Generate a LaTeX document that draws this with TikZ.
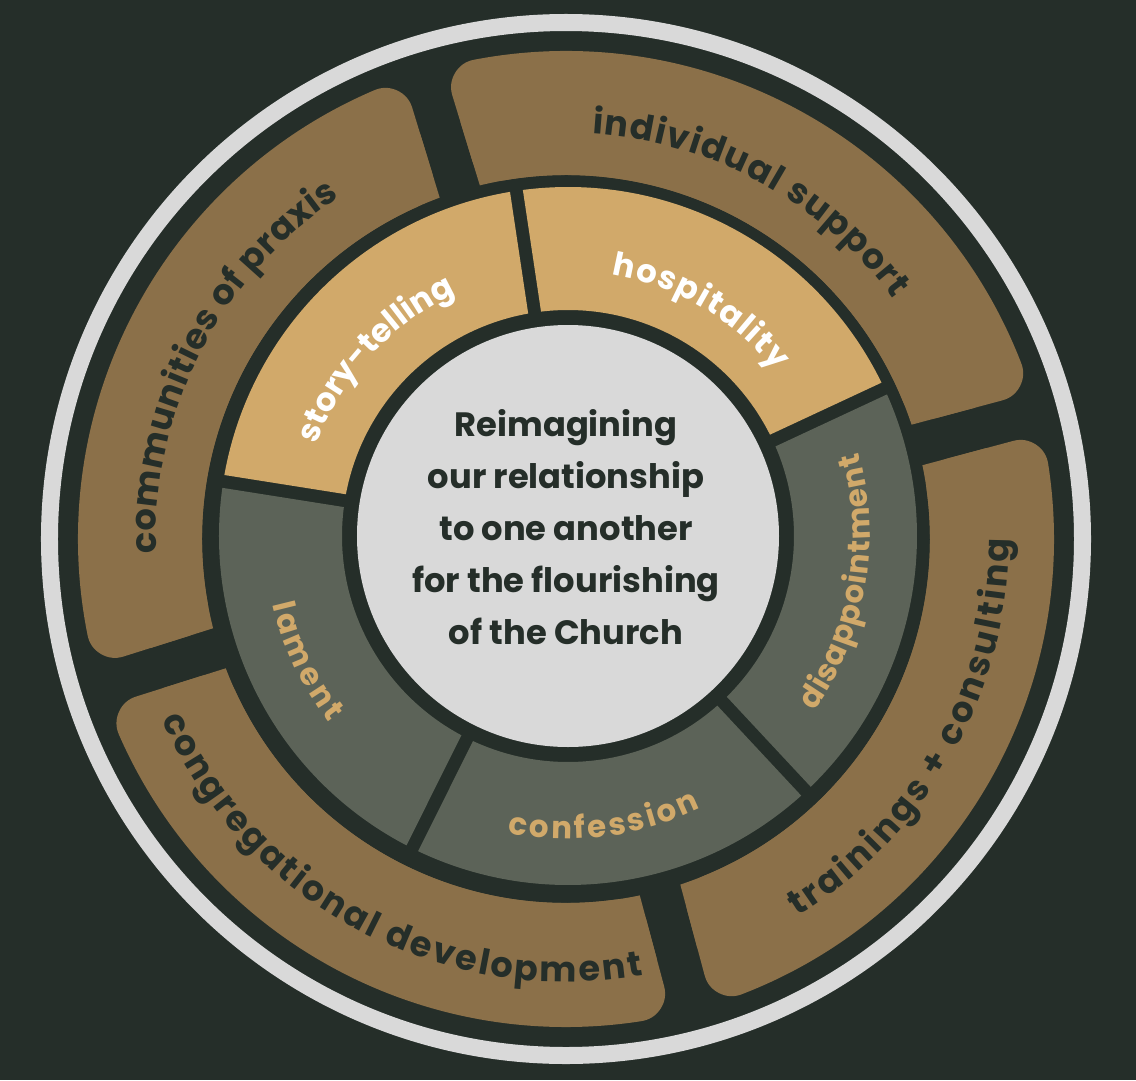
\documentclass[tikz,border=0pt]{standalone}
\usepackage{fontspec}
\setmainfont{Poppins}
\usetikzlibrary{decorations.text}
\definecolor{bg}{RGB}{37,46,41}
\definecolor{ink}{RGB}{37,46,41}
\definecolor{pale}{RGB}{217,217,217}
\definecolor{brn}{RGB}{139,112,73}
\definecolor{sand}{RGB}{209,169,106}
\definecolor{sage}{RGB}{92,99,88}
\newcommand\outfont{\color{ink}\bfseries\fontsize{25}{29}\selectfont}
\newcommand\whitefont{\color{white}\bfseries\fontsize{23}{27}\selectfont}
\newcommand\sandfont{\color{sand}\bfseries\fontsize{22}{26}\selectfont}

\begin{document}
\begin{tikzpicture}[x=0.025cm,y=0.025cm,
  seg/.style={line width=1.4cm,line join=round},
  arctext/.style={decorate,decoration={text along path,text align=fit to path}},
  title/.style={align=center,text=ink,font=\bfseries\fontsize{24}{37}\selectfont}]
  \fill[bg] (-566,-541) rectangle (570,539);
  \draw[pale,line width=0.425cm] (0,0) circle[radius=516.5];
  \foreach \p/\q in {15/107,107/197.5,197.5/285,-75/15}{
    \filldraw[brn,seg] ({\p+asin(49/392)}:392) -- ({\p+asin(49/460)}:460)
      arc[start angle={\p+asin(49/460)},end angle={\q-asin(49/460)},radius=460]
      -- ({\q-asin(49/392)}:392)
      arc[start angle={\q-asin(49/392)},end angle={\p+asin(49/392)},radius=392] -- cycle;
    \fill[brn] ({\p+asin(21/364)}:364) -- ({\p+asin(21/430)}:430)
      arc[start angle={\p+asin(21/430)},end angle={\q-asin(21/430)},radius=430]
      -- ({\q-asin(21/364)}:364)
      arc[start angle={\q-asin(21/364)},end angle={\p+asin(21/364)},radius=364] -- cycle;
  }
  \path[arctext,decoration={text={|\outfont|communities of praxis}}]
    (182:410) arc[start angle=182,end angle=123.5,radius=410];
  \path[arctext,decoration={text={|\outfont|individual support}}]
    (86.3:406) arc[start angle=86.3,end angle=36.3,radius=406];
  \path[arctext,decoration={text={|\outfont|trainings + consulting}}]
    (-58.5:443) arc[start angle=-58.5,end angle=0,radius=443];
  \path[arctext,decoration={text={|\outfont|congregational development}}]
    (204:443) arc[start angle=204,end angle=280,radius=443];
  \begin{scope}[shift={(2,3)}]
    \foreach \p/\q/\c in {98.5/171/sand,25/98.5/sand,-47/25/sage,-116.5/-47/sage,171/243.5/sage}{
      \fill[\c] ({\p+asin(6.5/226)}:226) -- ({\p+asin(6.5/349)}:349)
        arc[start angle={\p+asin(6.5/349)},end angle={\q-asin(6.5/349)},radius=349]
        -- ({\q-asin(6.5/226)}:226)
        arc[start angle={\q-asin(6.5/226)},end angle={\p+asin(6.5/226)},radius=226] -- cycle;
    }
    \fill[pale] (0,0) circle[radius=211];
    \path[arctext,decoration={text={|\whitefont|story-telling}}]
      (160:267) arc[start angle=160,end angle=115,radius=267];
    \path[arctext,decoration={text={|\whitefont|hospitality}}]
      (80.5:265) arc[start angle=80.5,end angle=38.5,radius=265];
    \path[arctext,decoration={text={|\sandfont|disappointment}}]
      (-35.5:302) arc[start angle=-35.5,end angle=16,radius=302];
    \path[arctext,decoration={text={|\sandfont|confession}}]
      (258.5:303) arc[start angle=258.5,end angle=296,radius=303];
    \path[arctext,decoration={text={|\sandfont|lament}}]
      (193:303) arc[start angle=193,end angle=218,radius=303];
  \end{scope}
  \node[title] (title) at (0,12) {Reimagining\\our relationship\\to one another\\for the flourishing\\of the Church};
\end{tikzpicture}
\end{document}
